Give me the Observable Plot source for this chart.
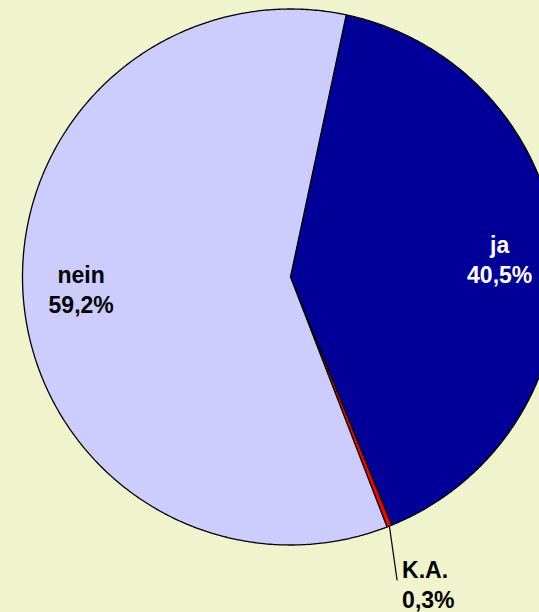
<!DOCTYPE html>
<html>
<head>
<meta charset="utf-8">
<script src="https://cdn.jsdelivr.net/npm/d3@7"></script>
<script src="https://cdn.jsdelivr.net/npm/@observablehq/plot@0.6"></script>
<style>
  html, body { margin: 0; padding: 0; background: #F0F4CC; }
  #chart svg { display: block; background: #F0F4CC; }
</style>
</head>
<body>
<div id="chart"></div>
<script>
// Data
const categories = ["ja", "K.A.", "nein"];
const values = [40.5, 0.3, 59.2];
const colors = ["#000099", "#FF0000", "#CCCCFF"];
const labelColors = ["#FFFFFF", "#000000", "#000000"];

// Layout
const W = 539, H = 612;
const R = 268;
const startDeg = 12;
const rad = d => d * Math.PI / 180;

const pie = d3.pie().sort(null).value(d => d.value)
  .startAngle(rad(startDeg)).endAngle(rad(startDeg + 360));
const arcs = pie(categories.map((c, i) => ({cat: c, value: values[i]})));

const pt = (a, r) => ({X: r * Math.sin(a), Y: r * Math.cos(a)});

const polys = [];
arcs.forEach(a => {
  const c = a.data.cat;
  polys.push({cat: c, ...pt(0, 0)});
  const n = Math.max(2, Math.ceil((a.endAngle - a.startAngle) / rad(0.5)));
  for (let k = 0; k <= n; k++) {
    const t = a.startAngle + (a.endAngle - a.startAngle) * k / n;
    polys.push({cat: c, ...pt(t, R)});
  }
  polys.push({cat: c, ...pt(0, 0)});
});

const fmt = v => v.toFixed(1).replace(".", ",") + "%";

const inside = arcs.filter(a => a.data.cat !== "K.A.").map(a => {
  const m = (a.startAngle + a.endAngle) / 2;
  const p = pt(m, 210);
  return {...p, text: a.data.cat + "\n" + fmt(a.data.value), color: labelColors[categories.indexOf(a.data.cat)],
    dy: a.data.cat === "nein" ? -4 : 0};
});

const ka = arcs.find(a => a.data.cat === "K.A.");
const kaMid = (ka.startAngle + ka.endAngle) / 2;
const l1 = pt(kaMid, R), l2 = pt(kaMid + rad(2.3), R * 1.2);
const leader = [{x1: l1.X, y1: l1.Y, x2: l2.X, y2: l2.Y}];
const kaLabel = [{X: l2.X, Y: l2.Y, text: ka.data.cat + "\n" + fmt(ka.data.value)}];

const font = "Liberation Sans, Arial, sans-serif";

const chart = Plot.plot({
  width: W,
  height: H,
  margin: 0,
  style: {background: "#F0F4CC"},
  x: {domain: [-290, 249], range: [0, W], axis: null},
  y: {domain: [-335.5, 276.5], range: [H, 0], axis: null},
  color: {domain: categories, range: colors},
  marks: [
    Plot.line(polys, {x: "X", y: "Y", z: "cat", fill: "cat", stroke: "#000", strokeWidth: 1.3, curve: "linear"}),
    Plot.link(leader, {x1: "x1", y1: "y1", x2: "x2", y2: "y2", stroke: "#000", strokeWidth: 1.2}),
    Plot.text(inside.filter(d => d.color === "#FFFFFF"), {x: "X", y: "Y", text: "text", fill: "#FFFFFF", fontSize: 23, fontWeight: "bold",
      fontFamily: font, lineHeight: 1.3}),
    Plot.text(inside.filter(d => d.color !== "#FFFFFF"), {x: "X", y: "Y", text: "text", fill: "#000", fontSize: 23, fontWeight: "bold",
      fontFamily: font, lineHeight: 1.3, dy: -5}),
    Plot.text(kaLabel, {x: "X", y: "Y", text: "text", fill: "#000", fontSize: 23, fontWeight: "bold",
      fontFamily: font, lineHeight: 1.3, textAnchor: "start", dx: 5, dy: 3})
  ]
});
document.getElementById("chart").appendChild(chart);
</script>
</body>
</html>
